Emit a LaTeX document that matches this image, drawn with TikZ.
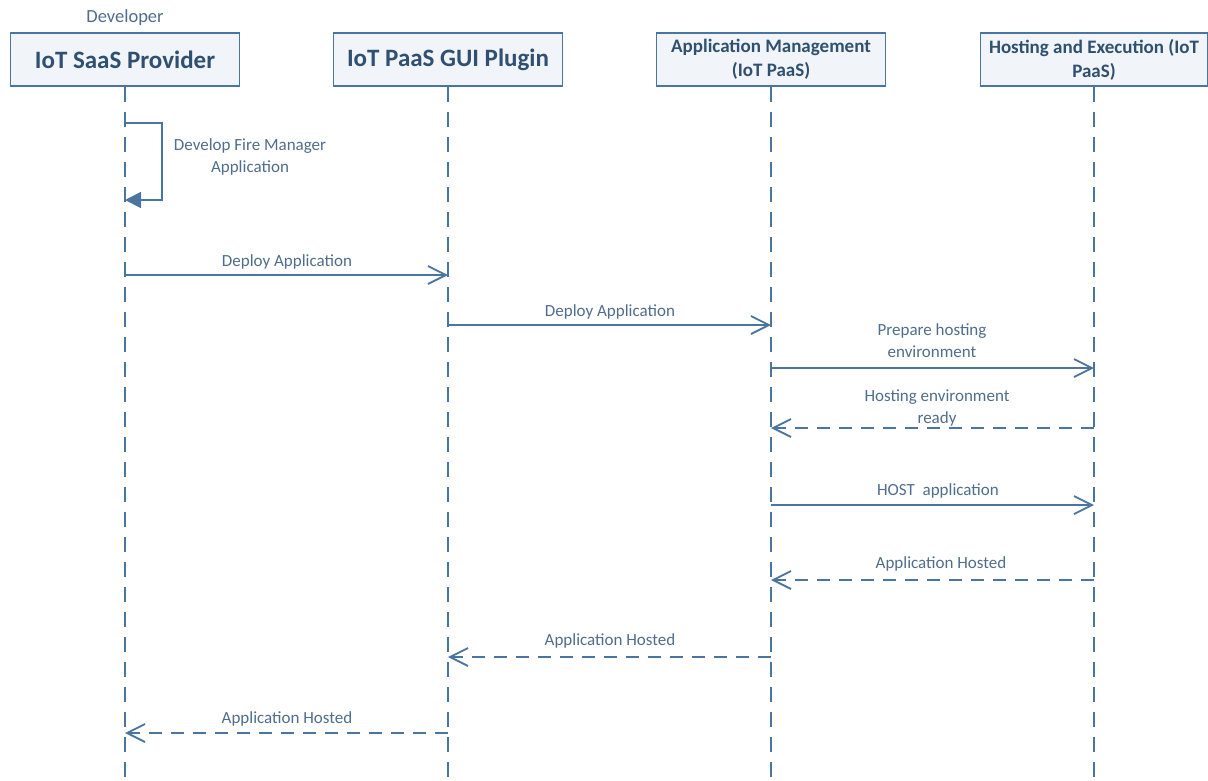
\documentclass[tikz,border=0pt]{standalone}
\usepackage{fontspec}
\setmainfont{Carlito}
\usetikzlibrary{arrows.meta}
\definecolor{seqline}{HTML}{4A75A0}
\definecolor{boxtext}{HTML}{2F5070}
\definecolor{labeltext}{HTML}{4F6D8C}
\definecolor{boxfill}{HTML}{F1F4F8}
\tikzset{
  actor/.style={draw=seqline, line width=1.8pt, fill=boxfill, minimum width=229, minimum height=53,
    inner sep=2pt, align=center, text=boxtext, font=\bfseries\fontsize{19}{24}\selectfont, anchor=north},
  bigactor/.style={actor, font=\bfseries\fontsize{25}{26}\selectfont},
  lifeline/.style={draw=seqline, line width=2pt, dash pattern=on 15pt off 10pt},
  msg/.style={draw=seqline, line width=1.8pt, -{Straight Barb[length=18pt,width=18pt,line width=1.8pt]}},
  reply/.style={msg, dash pattern=on 13pt off 9pt},
  msglabel/.style={text=labeltext, align=center, font=\fontsize{17}{22}\selectfont, anchor=base},
}
\begin{document}
\begin{tikzpicture}[x=1pt,y=-1pt]
  \useasboundingbox (0,0) rectangle (1208,780);

  % participants
  \node[bigactor] (saas) at (125,32) {IoT SaaS Provider};
  \node[bigactor] (gui)  at (448,32) {IoT PaaS GUI Plugin};
  \node[actor]    (mgmt) at (771,32) {Application Management\\(IoT PaaS)};
  \node[actor, minimum width=227] (host) at (1094,32) {Hosting and Execution (IoT\\PaaS)};
  \node[text=labeltext, font=\fontsize{18.5}{20}\selectfont] (dev) at (125,18) {Developer};

  % lifeline ends
  \coordinate (saasEnd) at (125,780);
  \coordinate (guiEnd)  at (448,780);
  \coordinate (mgmtEnd) at (771,780);
  \coordinate (hostEnd) at (1094,780);

  \draw[lifeline] (saas.south) -- (saasEnd);
  \draw[lifeline] (gui.south)  -- (guiEnd);
  \draw[lifeline] (mgmt.south) -- (mgmtEnd);
  \draw[lifeline] (host.south) -- (hostEnd);

  % self message
  \coordinate (selfA) at (125,123);
  \coordinate (selfB) at (125,200);
  \draw[draw=seqline, line width=1.8pt, -{Triangle[length=16pt,width=16pt]}]
    (selfA) -- (162,123) -- (162,200) -- (selfB);
  \node[msglabel] (selfLbl) at (250,172) {Develop Fire Manager\\Application};

  % message anchors on lifelines
  \coordinate (m1s) at (125,275);  \coordinate (m1e) at (448,275);
  \coordinate (m2s) at (448,325);  \coordinate (m2e) at (771,325);
  \coordinate (m3s) at (771,368);  \coordinate (m3e) at (1094,368);
  \coordinate (m4s) at (1094,428); \coordinate (m4e) at (771,428);
  \coordinate (m5s) at (771,505);  \coordinate (m5e) at (1094,505);
  \coordinate (m6s) at (1094,580); \coordinate (m6e) at (771,580);
  \coordinate (m7s) at (771,657);  \coordinate (m7e) at (448,657);
  \coordinate (m8s) at (448,733);  \coordinate (m8e) at (125,733);

  \draw[msg]   (m1s) -- (m1e);
  \draw[msg]   (m2s) -- (m2e);
  \draw[msg]   (m3s) -- (m3e);
  \draw[reply] (m4s) -- (m4e);
  \draw[msg]   (m5s) -- (m5e);
  \draw[reply] (m6s) -- (m6e);
  \draw[reply] (m7s) -- (m7e);
  \draw[reply] (m8s) -- (m8e);

  % message labels
  \node[msglabel] (l1) at (287,266) {Deploy Application};
  \node[msglabel] (l2) at (610,316) {Deploy Application};
  \node[msglabel] (l3) at (932,357) {Prepare hosting\\environment};
  \node[msglabel] (l4) at (937,423) {Hosting environment\\ready};
  \node[msglabel] (l5) at (938,495) {HOST\ \ application};
  \node[msglabel] (l6) at (941,568) {Application Hosted};
  \node[msglabel] (l7) at (610,645) {Application Hosted};
  \node[msglabel] (l8) at (287,723) {Application Hosted};
\end{tikzpicture}
\end{document}
